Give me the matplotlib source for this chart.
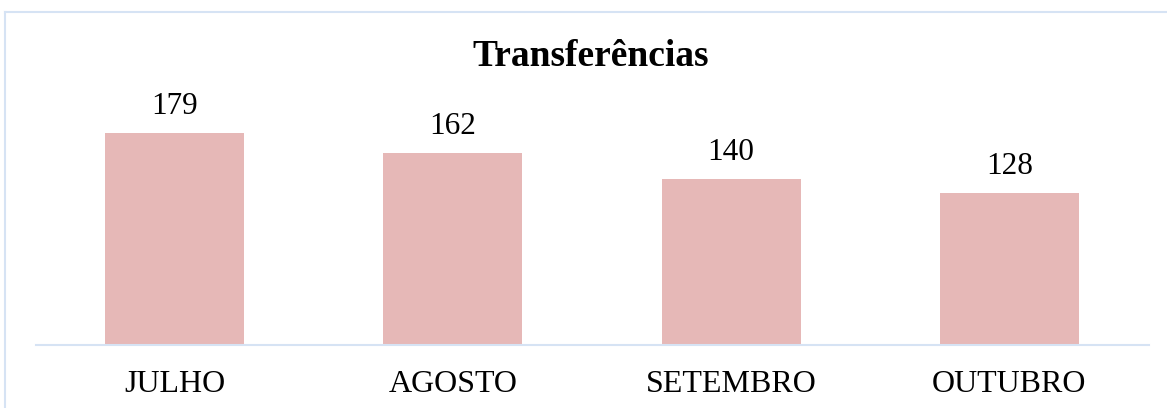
import matplotlib
matplotlib.use("Agg")
import matplotlib.pyplot as plt
from matplotlib.lines import Line2D

categories = ["JULHO", "AGOSTO", "SETEMBRO", "OUTUBRO"]
values = [179, 162, 140, 128]
title = "Transferências"

W, H = 1167, 408
fig = plt.figure(figsize=(W / 100, H / 100), dpi=100)
plt.rcParams['font.family'] = ['Liberation Serif', 'DejaVu Serif']

scale = 1.183  # px per unit
ytop = 200
ax_left, ax_right = 35.5, 1148.5
base_y = 344.5
ax_h = ytop * scale
ax = fig.add_axes([ax_left / W, (H - base_y) / H, (ax_right - ax_left) / W, ax_h / H])

x = range(len(categories))
ax.bar(x, values, width=0.5, color="#E6B8B7", zorder=2)
ax.set_xlim(-0.5, len(categories) - 0.5)
ax.set_ylim(0, ytop)
for s in ["top", "right", "left"]:
    ax.spines[s].set_visible(False)
ax.spines["bottom"].set_color("#D6E3F4")
ax.spines["bottom"].set_linewidth(1.5)
ax.set_yticks([])
ax.set_xticks(list(x))
ax.set_xticklabels(categories, fontsize=23)
ax.tick_params(axis="x", length=0, pad=18)

for i, v in enumerate(values):
    ax.annotate(str(v), (i, v), xytext=(0, 12), textcoords="offset pixels",
                ha="center", va="bottom", fontsize=22.5)

fig.text(591 / W, 1 - 56 / H, title, ha="center", va="center",
         fontsize=27, fontweight="bold")

# figure border (top and left visible)
bc = "#D6E3F4"
fig.add_artist(Line2D([5 / W, 1.0], [1 - 12 / H, 1 - 12 / H], color=bc, lw=1.5, transform=fig.transFigure))
fig.add_artist(Line2D([5 / W, 5 / W], [0, 1 - 12 / H], color=bc, lw=1.5, transform=fig.transFigure))

fig.savefig("out.png", dpi=100)
